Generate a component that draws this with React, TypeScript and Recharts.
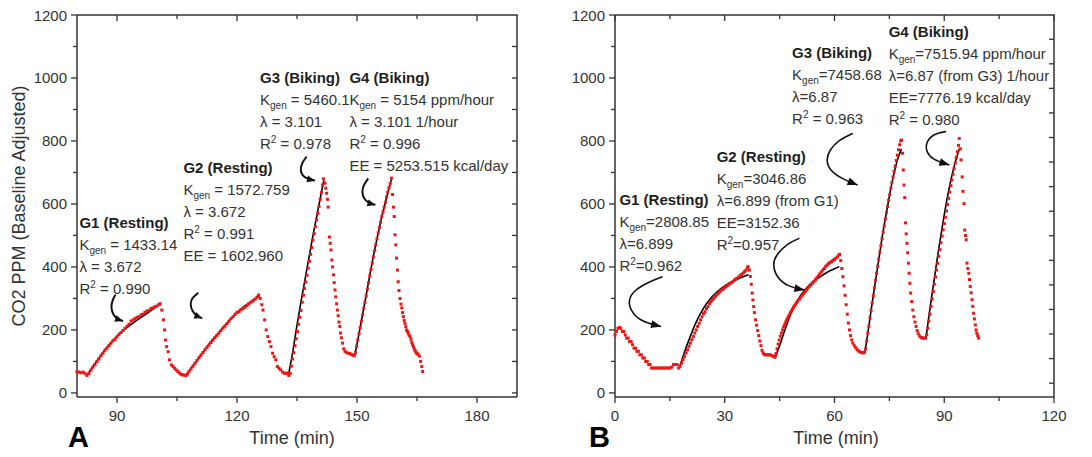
import React from 'react';
import { ComposedChart, Scatter, Line, XAxis, YAxis } from 'recharts';

const FONT = '"Liberation Sans", Arial, Helvetica, sans-serif';
const INK = '#333333';
const RED = '#f01414';
const TOP = 15; // plot top (chart margin)
const X_AXIS_H = 60;
const CHART_W = 546;
const CHART_H = 457;

type P = [number, number];

// ---------------- Panel A ----------------
const redA: P[] = [
  [80, 67], [80.5, 66], [81, 64], [81.5, 66], [82, 62], [82.5, 56],
  [83, 62], [83.5, 72], [84, 82], [84.5, 90], [85, 100], [85.5, 108], [86, 118], [86.5, 126], [87, 136], [87.5, 142],
  [88, 150], [88.5, 158], [89, 166], [89.5, 170], [90, 178], [90.5, 186], [91, 192], [91.5, 198], [92, 205], [92.5, 212],
  [93, 218], [93.5, 228], [94, 232], [94.5, 236], [95, 240], [95.5, 242], [96, 248], [96.5, 250], [97, 256], [97.5, 260],
  [98, 262], [98.5, 268], [99, 270], [99.5, 274], [100, 276], [100.5, 281],
  [100.8, 283], [101.2, 263], [101.6, 232], [101.9, 200], [102.1, 168], [102.4, 147], [102.8, 131], [103.1, 105],
  [103.6, 89], [104, 84], [104.4, 78], [104.8, 73], [105.2, 68], [105.6, 63], [106, 59], [106.4, 57], [106.8, 57], [107.2, 55],
  [107.6, 60], [108, 68], [108.5, 76], [109, 85], [109.5, 94], [110, 103], [110.5, 112], [111, 120], [111.5, 128], [112, 137],
  [112.5, 145], [113, 152], [113.5, 160], [114, 168], [114.5, 176], [115, 183], [115.5, 190], [116, 198], [116.5, 206],
  [117, 212], [117.5, 220], [118, 228], [118.5, 236], [119, 242], [119.5, 250], [120, 255], [120.5, 258], [121, 264],
  [121.5, 268], [122, 272], [122.5, 278], [123, 283], [123.5, 288], [124, 292], [124.5, 298], [125, 304], [125.4, 311],
  [125.8, 300], [126.2, 280], [126.5, 263], [126.9, 232], [127.3, 200], [127.7, 179], [128.1, 163], [128.5, 147],
  [128.9, 126], [129.3, 115], [129.7, 105], [130.1, 84], [130.5, 78], [130.9, 73], [131.4, 66], [131.8, 63], [132.2, 62],
  [132.6, 63], [133, 56],
  [133.3, 62], [133.6, 85], [133.9, 108], [134.2, 128], [134.5, 150], [134.8, 172], [135.1, 195], [135.4, 218], [135.7, 240],
  [136, 262], [136.3, 288], [136.6, 310], [136.9, 332], [137.2, 352], [137.5, 374], [137.8, 396], [138.1, 418], [138.4, 440],
  [138.7, 462], [139, 485], [139.3, 506], [139.6, 528], [139.9, 550], [140.2, 570], [140.5, 592], [140.8, 615], [141.1, 636],
  [141.4, 660], [141.6, 680],
  [142, 666], [142.2, 650], [142.4, 634], [142.6, 615], [142.8, 590], [143.1, 495], [143.3, 475], [143.5, 454], [143.7, 422],
  [143.9, 400], [144.1, 375], [144.3, 350], [144.5, 327], [144.7, 305], [144.9, 283], [145.1, 263], [145.3, 245], [145.5, 225],
  [145.7, 211], [145.9, 190], [146.1, 175], [146.4, 158], [146.7, 140], [147, 132], [147.4, 128], [147.8, 126], [148.2, 125],
  [148.6, 122], [149, 120], [149.3, 118],
  [149.6, 128], [149.9, 148], [150.2, 168], [150.5, 188], [150.8, 208], [151.1, 228], [151.4, 248], [151.7, 268], [152, 288],
  [152.3, 308], [152.6, 330], [152.9, 350], [153.2, 372], [153.5, 392], [153.8, 412], [154.1, 432], [154.4, 452], [154.7, 470],
  [155, 490], [155.3, 508], [155.6, 525], [155.9, 542], [156.2, 560], [156.5, 575], [156.8, 590], [157.1, 605], [157.4, 622],
  [157.7, 638], [158, 652], [158.3, 665], [158.6, 682],
  [158.9, 630], [159.1, 590], [159.3, 560], [159.5, 502], [159.7, 470], [159.9, 428], [160.1, 390], [160.3, 353], [160.5, 325],
  [160.75, 300], [161, 282], [161.2, 270], [161.4, 255], [161.6, 242], [161.8, 230], [162, 220], [162.2, 210], [162.4, 200],
  [162.6, 195], [162.8, 190], [163, 184], [163.25, 179], [163.5, 170], [163.7, 160], [163.9, 153], [164.1, 147], [164.3, 140],
  [164.5, 135], [164.7, 130], [164.9, 126], [165.1, 124], [165.3, 122], [165.6, 117], [165.9, 100], [166.2, 84], [166.4, 68],
];

const fitA1: P[] = [[82.3, 52], [84, 84], [86, 120], [88, 152], [90, 180], [92, 203], [94, 222], [96, 240], [98, 257], [100.6, 281]];
const fitA2: P[] = [[107.3, 54], [108, 68], [110, 103], [112, 138], [114, 170], [116, 200], [118, 228], [120, 255], [122, 276], [124, 294], [125.6, 308]];
const fitA3: P[] = [[132.8, 52], [134, 135], [135, 215], [136, 290], [137, 360], [138, 430], [139, 500], [140, 565], [141, 630], [141.7, 675]];
const fitA4: P[] = [[149.4, 117], [150, 155], [151, 222], [152, 290], [153, 360], [154, 428], [155, 490], [156, 548], [157, 600], [158, 650], [158.6, 678]];

const arrowA1: P[] = [[89.6, 312], [88.7, 290], [88.5, 268], [89.1, 247], [90.1, 234], [91.5, 228]];
const arrowA2: P[] = [[110.3, 318], [108.6, 300], [108.3, 280], [108.8, 260], [109.8, 245], [111.3, 237]];
const arrowA3: P[] = [[137.4, 750], [136.2, 730], [135.8, 708], [136.3, 690], [137.5, 680], [139.5, 674]];
const arrowA4: P[] = [[152.8, 681], [151.6, 660], [151.2, 637], [151.7, 617], [152.8, 603], [154.6, 597]];

const notesA = [
  { x: 80.6, y: 524, lines: ['G1 (Resting)', 'K_gen = 1433.14', 'λ = 3.672', 'R^2 = 0.990'] },
  { x: 106.6, y: 699, lines: ['G2 (Resting)', 'K_gen = 1572.759', 'λ = 3.672', 'R^2 = 0.991', 'EE = 1602.960'] },
  { x: 125.75, y: 984, lines: ['G3 (Biking)', 'K_gen = 5460.1', 'λ = 3.101', 'R^2 = 0.978'] },
  { x: 148.1, y: 984, lines: ['G4 (Biking)', 'K_gen = 5154 ppm/hour', 'λ = 3.101 1/hour', 'R^2 = 0.996', 'EE = 5253.515 kcal/day'] },
];

const xTicksA = [90, 105, 120, 135, 150, 165, 180];
const xLabelsA = [90, 120, 150, 180];

// ---------------- Panel B ----------------
const redB: P[] = [
  [0, 184], [0.4, 195], [0.8, 205], [1.2, 208], [1.6, 205], [2, 195], [2.4, 195], [2.8, 184], [3.2, 174], [3.6, 174],
  [4, 163], [4.4, 163], [4.8, 153], [5.2, 142], [5.6, 142], [6, 132], [6.4, 132], [6.8, 121], [7.2, 121], [7.6, 111],
  [8, 111], [8.4, 100], [8.8, 100], [9.2, 90], [9.6, 90], [10, 79], [10.5, 79], [11, 79], [11.5, 79], [12, 79], [12.5, 79],
  [13, 79], [13.5, 79], [14, 79], [14.5, 79], [15, 79], [15.5, 82], [16, 90], [16.5, 90], [17, 90], [17.4, 79],
  [17.8, 85], [18.2, 95], [18.6, 106], [19, 116], [19.4, 127], [19.8, 137], [20.2, 148], [20.6, 158], [21, 169], [21.4, 179],
  [21.8, 190], [22.2, 200], [22.6, 211], [23, 221], [23.4, 232], [23.8, 242], [24.2, 252], [24.6, 258], [25, 268], [25.4, 274],
  [25.8, 284], [26.2, 290], [26.6, 295], [27, 300], [27.4, 306], [27.8, 311], [28.2, 316], [28.6, 321], [29, 326], [29.4, 328],
  [29.8, 332], [30.2, 337], [30.6, 340], [31, 343], [31.4, 348], [31.8, 350], [32.2, 353], [32.6, 358], [33, 362], [33.4, 364],
  [33.8, 368], [34.2, 372], [34.6, 376], [35, 380], [35.4, 385], [35.8, 390], [36.2, 398], [36.4, 401],
  [36.7, 390], [37, 370], [37.25, 345], [37.5, 317], [37.7, 295], [37.9, 274], [38.1, 255], [38.4, 232], [38.7, 215], [39, 198],
  [39.3, 182], [39.6, 165], [39.9, 150], [40.2, 135], [40.5, 126], [40.9, 121], [41.3, 121], [41.7, 121], [42.1, 121],
  [42.5, 121], [42.9, 118], [43.3, 116], [43.7, 113],
  [44, 125], [44.3, 140], [44.6, 155], [44.9, 168], [45.2, 180], [45.5, 190], [45.8, 200], [46.1, 210], [46.4, 218], [46.7, 226],
  [47, 233], [47.3, 240], [47.6, 247], [47.9, 254], [48.2, 260], [48.5, 266], [48.8, 272], [49.1, 277], [49.4, 282], [49.7, 287],
  [50, 292], [50.4, 298], [50.8, 304], [51.2, 310], [51.6, 316], [52, 322], [52.4, 328], [52.8, 334], [53.2, 339], [53.6, 344],
  [54, 349], [54.4, 354], [54.8, 360], [55.2, 366], [55.6, 372], [56, 378], [56.4, 384], [56.8, 390], [57.2, 395], [57.6, 402],
  [58, 406], [58.4, 411], [58.8, 414], [59.2, 417], [59.6, 421], [60, 424], [60.4, 428], [60.8, 432], [61.2, 438], [61.4, 440],
  [61.7, 420], [62, 395], [62.3, 369], [62.6, 340], [62.9, 310], [63.2, 280], [63.5, 250], [63.8, 222], [64.1, 200], [64.4, 182],
  [64.7, 168], [65, 158], [65.4, 150], [65.8, 143], [66.2, 137], [66.6, 133], [67, 130], [67.4, 128], [67.8, 127], [68.2, 129],
  [68.5, 140], [68.8, 165], [69.1, 190], [69.4, 212], [69.7, 238], [70, 262], [70.3, 286], [70.6, 310], [70.9, 334], [71.2, 358],
  [71.5, 380], [71.8, 402], [72.1, 425], [72.4, 447], [72.7, 468], [73, 490], [73.3, 510], [73.6, 530], [73.9, 552], [74.2, 572],
  [74.5, 592], [74.8, 612], [75.1, 630], [75.4, 650], [75.7, 668], [76, 686], [76.3, 704], [76.6, 720], [76.9, 738], [77.2, 755],
  [77.5, 772], [77.8, 788], [78.1, 800], [78.3, 803],
  [78.6, 761], [78.8, 708], [79, 660], [79.2, 620], [79.4, 540], [79.6, 505], [79.8, 475], [80, 445], [80.2, 412], [80.4, 380],
  [80.6, 348], [80.8, 317], [81.1, 290], [81.4, 263], [81.7, 242], [82, 225], [82.3, 211], [82.6, 198], [82.9, 188], [83.3, 180],
  [83.7, 176], [84.1, 174], [84.5, 174], [84.9, 174],
  [85.2, 185], [85.5, 205], [85.8, 228], [86.1, 250], [86.4, 275], [86.7, 298], [87, 322], [87.3, 345], [87.6, 368], [87.9, 390],
  [88.2, 412], [88.5, 434], [88.8, 455], [89.1, 477], [89.4, 498], [89.7, 518], [90, 538], [90.3, 558], [90.6, 578], [90.9, 598],
  [91.2, 618], [91.5, 638], [91.8, 658], [92.1, 676], [92.4, 694], [92.7, 712], [93, 730], [93.3, 748], [93.6, 766], [93.9, 786],
  [94.1, 808],
  [94.4, 775], [94.6, 740], [94.9, 686], [95.1, 640], [95.4, 601], [95.6, 517], [95.8, 500], [96, 486], [96.2, 412], [96.45, 395],
  [96.7, 380], [96.9, 360], [97.1, 338], [97.35, 318], [97.6, 296], [97.8, 275], [98, 253], [98.25, 235], [98.5, 216], [98.7, 200],
  [98.9, 190], [99.15, 182], [99.4, 174],
];

const fitB1: P[] = [[17.6, 79], [19, 130], [20, 162], [21, 192], [22, 220], [24, 265], [26, 298], [28, 322], [30, 340], [32, 353], [34, 364], [36.5, 375]];
const fitB2: P[] = [[43.8, 112], [44.5, 135], [45, 150], [46, 185], [47, 218], [48, 250], [49, 275], [50, 296], [52, 328], [54, 352], [56, 368], [58, 383], [60, 394], [61.3, 401]];
const fitB3: P[] = [[68.3, 129], [69, 180], [70, 262], [71, 340], [72, 415], [73, 492], [74, 560], [75, 625], [76, 683], [77, 732], [78.3, 775]];
const fitB4: P[] = [[85, 174], [86, 260], [87, 340], [88, 420], [89, 495], [90, 565], [91, 630], [92, 685], [93, 732], [94.2, 778]];

const arrowB1: P[] = [[13.0, 369], [9.4, 353], [5.3, 327], [3.5, 295], [4.4, 258], [7.1, 226], [12.6, 211]];
const arrowB2: P[] = [[50.4, 491], [47.2, 475], [44.0, 438], [43.1, 410], [44.0, 369], [47.2, 337], [51.8, 327]];
const arrowB3: P[] = [[65.0, 824], [61.1, 803], [58.6, 771], [57.7, 740], [58.6, 708], [61.8, 681], [66.3, 660]];
const arrowB4: P[] = [[90.5, 830], [87.3, 824], [85.0, 798], [85.0, 766], [86.9, 740], [91.4, 724]];

const notesB = [
  { x: 1.2, y: 598, lines: ['G1 (Resting)', 'K_gen=2808.85', 'λ=6.899', 'R^2=0.962'] },
  { x: 27.8, y: 733, lines: ['G2 (Resting)', 'K_gen=3046.86', 'λ=6.899 (from G1)', 'EE=3152.36', 'R^2=0.957'] },
  { x: 48.4, y: 1064, lines: ['G3 (Biking)', 'K_gen=7458.68', 'λ=6.87', 'R^2 = 0.963'] },
  { x: 74.8, y: 1130, lines: ['G4 (Biking)', 'K_gen=7515.94 ppm/hour', 'λ=6.87 (from G3) 1/hour', 'EE=7776.19 kcal/day', 'R^2 = 0.980'] },
];

const xTicksB = [0, 15, 30, 45, 60, 75, 90, 105, 120];
const xLabelsB = [0, 30, 60, 90, 120];

// ---------------- shared axes ----------------
const yTicks = [0, 100, 200, 300, 400, 500, 600, 700, 800, 900, 1000, 1100, 1200];
const yLabels = [0, 200, 400, 600, 800, 1000, 1200];
const rightTicksA = [0, 100, 200, 300, 400, 500, 600, 700, 800, 900, 1000, 1100];
const rightTicksB = [31, 109, 187, 265, 343, 421, 499, 577, 655, 733, 811, 889, 967, 1045, 1123];
const Y_MIN = -13;
const Y_MAX = 1200;

const toXY = (arr: P[]) => arr.map(([x, y]) => ({ x, y }));

function renderRich(line: string) {
  const parts = line.split(/(K_gen|R\^2)/).filter((s) => s !== '');
  const nodes: React.ReactNode[] = [];
  let carry = 0;
  parts.forEach((s, i) => {
    if (s === 'K_gen') {
      nodes.push(<tspan key={`${i}a`} dy={carry || undefined}>K</tspan>);
      nodes.push(<tspan key={`${i}b`} fontSize={10} dy={4}>gen</tspan>);
      carry = -4;
    } else if (s === 'R^2') {
      nodes.push(<tspan key={`${i}a`} dy={carry || undefined}>R</tspan>);
      nodes.push(<tspan key={`${i}b`} fontSize={10} dy={-6}>2</tspan>);
      carry = 6;
    } else {
      nodes.push(<tspan key={`${i}c`} dy={carry || undefined}>{s}</tspan>);
      carry = 0;
    }
  });
  return nodes;
}

const NoteShape = (props: any) => {
  const { cx, cy, payload } = props;
  const lines: string[] = payload.lines;
  return (
    <g>
      {lines.map((ln, i) => (
        <text
          key={i}
          x={cx}
          y={cy + i * 22}
          fontSize={15}
          fontFamily={FONT}
          fontWeight={i === 0 ? 'bold' : 'normal'}
          fill={i === 0 ? '#1e1e1e' : INK}
        >
          {renderRich(ln)}
        </text>
      ))}
    </g>
  );
};

const RedSquare = (props: any) => {
  const { cx, cy } = props;
  return <rect x={cx - 1.5} y={cy - 1.5} width={3} height={3} fill={RED} />;
};

function makeArrowHead(n: number, len: number, half: number) {
  let prev: { x: number; y: number } | null = null;
  return (p: any) => {
    const { cx, cy, index } = p;
    if (index === n - 2) prev = { x: cx, y: cy };
    if (index !== n - 1 || !prev) return <g key={`ah${index}`} />;
    const a = Math.atan2(cy - prev.y, cx - prev.x);
    const bx = cx - len * Math.cos(a);
    const by = cy - len * Math.sin(a);
    const px = -Math.sin(a) * half;
    const py = Math.cos(a) * half;
    return (
      <polygon
        key={`ah${index}`}
        points={`${cx},${cy} ${bx + px},${by + py} ${bx - px},${by - py}`}
        fill="#111"
      />
    );
  };
}

const bottomTick = (labels: number[]) => (p: any) => {
  const { x, y, payload } = p;
  const v = payload.value;
  const major = labels.includes(v);
  return (
    <g>
      <line x1={x} x2={x} y1={y} y2={y + (major ? 6 : 4)} stroke={INK} strokeWidth={1.3} />
      {major && (
        <text x={x} y={y + 23.5} textAnchor="middle" fontSize={15} fill={INK} fontFamily={FONT}>
          {v}
        </text>
      )}
    </g>
  );
};

const leftTick = (p: any) => {
  const { x, y, payload } = p;
  const v = payload.value;
  const major = yLabels.includes(v);
  return (
    <g>
      <line x1={x} x2={x - (major ? 6 : 4)} y1={y} y2={y} stroke={INK} strokeWidth={1.3} />
      {major && (
        <text x={x - 10} y={y + 5.5} textAnchor="end" fontSize={15} fill={INK} fontFamily={FONT}>
          {v}
        </text>
      )}
    </g>
  );
};

const xTitle = (letter: string, titleDx: number, letterDx: number) => (props: any) => {
  const vb = props.viewBox || { x: 0, y: 0, width: 0, height: 0 };
  const cx = vb.x + vb.width / 2;
  return (
    <g>
      <text x={cx + titleDx} y={vb.y + 46.5} textAnchor="middle" fontSize={18} fill={INK} fontFamily={FONT}>
        Time (min)
      </text>
      <text x={vb.x + letterDx} y={vb.y + 50} fontSize={29} fontWeight="bold" fill="#000" fontFamily={FONT}>
        {letter}
      </text>
    </g>
  );
};

const yTitle = (text: string) => (props: any) => {
  const vb = props.viewBox || { x: 0, y: 0, width: 0, height: 0 };
  const cy = vb.y + vb.height / 2;
  const x = 25;
  return (
    <text
      x={x}
      y={cy}
      transform={`rotate(-90, ${x}, ${cy})`}
      textAnchor="middle"
      fontSize={18}
      fill={INK}
      fontFamily={FONT}
    >
      {text}
    </text>
  );
};

// Top and right edges of the axis box (mirrored, inward ticks), laid over the chart.
function FrameOverlay(props: {
  plotL: number;
  plotR: number;
  xDomain: [number, number];
  xTicks: number[];
  xLabels: number[];
  rightTicks: number[];
}) {
  const { plotL, plotR, xDomain, xTicks, xLabels, rightTicks } = props;
  const plotT = TOP;
  const plotB = CHART_H - X_AXIS_H;
  const sx = (v: number) => plotL + ((v - xDomain[0]) / (xDomain[1] - xDomain[0])) * (plotR - plotL);
  const sy = (v: number) => plotT + ((Y_MAX - v) / (Y_MAX - Y_MIN)) * (plotB - plotT);
  return (
    <svg
      width={CHART_W}
      height={CHART_H}
      style={{ position: 'absolute', left: 0, top: 0, pointerEvents: 'none' }}
    >
      <line x1={plotL} x2={plotR + 0.75} y1={plotT} y2={plotT} stroke={INK} strokeWidth={1.5} />
      <line x1={plotR} x2={plotR} y1={plotT} y2={plotB} stroke={INK} strokeWidth={1.5} />
      {xTicks.map((v) => (
        <line
          key={`t${v}`}
          x1={sx(v)}
          x2={sx(v)}
          y1={plotT}
          y2={plotT + (xLabels.includes(v) ? 6 : 4)}
          stroke={INK}
          strokeWidth={1.3}
        />
      ))}
      {rightTicks.map((v) => (
        <line key={`r${v}`} x1={plotR} x2={plotR - 5} y1={sy(v)} y2={sy(v)} stroke={INK} strokeWidth={1.3} />
      ))}
    </svg>
  );
}

interface PanelProps {
  left: number;
  yAxisW: number;
  marginR: number;
  xDomain: [number, number];
  xTicks: number[];
  xLabels: number[];
  rightTicks: number[];
  red: P[];
  fits: P[][];
  arrows: P[][];
  notes: { x: number; y: number; lines: string[] }[];
  letter: string;
  letterDx: number;
  titleDx: number;
  yTitleText?: string;
  headLen: number;
  headHalf: number;
  arrowWidth: number;
}

function Panel(p: PanelProps) {
  const axisLine = { stroke: INK, strokeWidth: 1.5 };
  return (
    <div style={{ position: 'absolute', left: p.left, top: 0, width: CHART_W, height: CHART_H }}>
      <ComposedChart
        width={CHART_W}
        height={CHART_H}
        margin={{ top: TOP, right: p.marginR, bottom: 0, left: 0 }}
        style={{ fontFamily: FONT }}
      >
        <XAxis
          dataKey="x"
          type="number"
          domain={p.xDomain}
          ticks={p.xTicks}
          interval={0}
          height={X_AXIS_H}
          tickSize={0}
          tickMargin={0}
          tickLine={false}
          axisLine={axisLine}
          tick={bottomTick(p.xLabels)}
          label={xTitle(p.letter, p.titleDx, p.letterDx)}
        />
        <YAxis
          type="number"
          domain={[Y_MIN, Y_MAX]}
          ticks={yTicks}
          interval={0}
          width={p.yAxisW}
          tickSize={0}
          tickMargin={0}
          tickLine={false}
          axisLine={axisLine}
          tick={leftTick}
          label={p.yTitleText ? yTitle(p.yTitleText) : undefined}
        />
        <Scatter data={toXY(p.red)} dataKey="y" shape={RedSquare} isAnimationActive={false} />
        {p.fits.map((f, i) => (
          <Line
            key={`fit${i}`}
            data={toXY(f)}
            dataKey="y"
            type="monotone"
            stroke="#000"
            strokeWidth={1.6}
            dot={false}
            activeDot={false}
            isAnimationActive={false}
          />
        ))}
        {p.arrows.map((a, i) => (
          <Line
            key={`arr${i}`}
            data={toXY(a)}
            dataKey="y"
            type="basis"
            stroke="#111"
            strokeWidth={p.arrowWidth}
            dot={makeArrowHead(a.length, p.headLen, p.headHalf)}
            activeDot={false}
            isAnimationActive={false}
          />
        ))}
        <Scatter data={p.notes} dataKey="y" shape={NoteShape} isAnimationActive={false} />
      </ComposedChart>
      <FrameOverlay
        plotL={p.yAxisW}
        plotR={CHART_W - p.marginR}
        xDomain={p.xDomain}
        xTicks={p.xTicks}
        xLabels={p.xLabels}
        rightTicks={p.rightTicks}
      />
    </div>
  );
}

export default function App() {
  return (
    <div
      style={{
        position: 'absolute',
        left: 0,
        top: 0,
        width: 1092,
        height: 457,
        background: '#fff',
        overflow: 'hidden',
      }}
    >
      <Panel
        left={0}
        yAxisW={77}
        marginR={29}
        xDomain={[80, 190]}
        xTicks={xTicksA}
        xLabels={xLabelsA}
        rightTicks={rightTicksA}
        red={redA}
        fits={[fitA1, fitA2, fitA3, fitA4]}
        arrows={[arrowA1, arrowA2, arrowA3, arrowA4]}
        notes={notesA}
        letter="A"
        letterDx={-9}
        titleDx={-5}
        yTitleText="CO2 PPM (Baseline Adjusted)"
        headLen={8}
        headHalf={3.5}
        arrowWidth={2}
      />
      <Panel
        left={546}
        yAxisW={69}
        marginR={38}
        xDomain={[0, 120]}
        xTicks={xTicksB}
        xLabels={xLabelsB}
        rightTicks={rightTicksB}
        red={redB}
        fits={[fitB1, fitB2, fitB3, fitB4]}
        arrows={[arrowB1, arrowB2, arrowB3, arrowB4]}
        notes={notesB}
        letter="B"
        letterDx={-26}
        titleDx={1.5}
        headLen={10}
        headHalf={4}
        arrowWidth={1.6}
      />
    </div>
  );
}
